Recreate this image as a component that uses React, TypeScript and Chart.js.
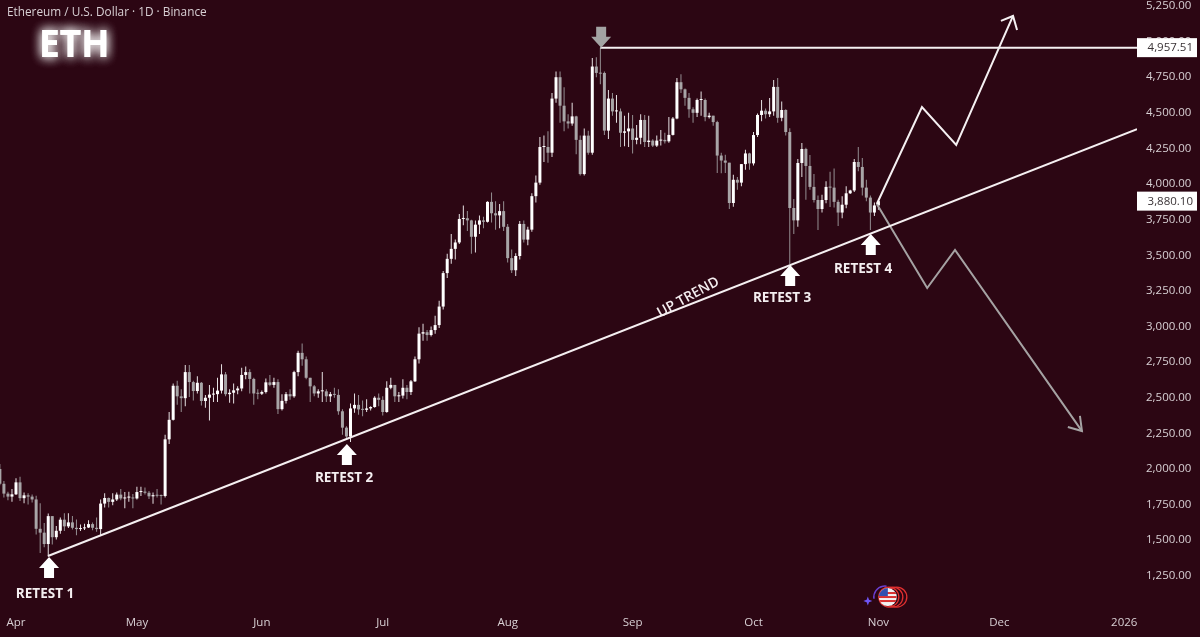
import React, { useEffect, useRef } from "react";
import Chart from "chart.js/auto";

// Day numbers count from 1 April 2025; the candles run from 28 March to 1 November.
const firstDay = -4;
const opens = [
  2000, 1896, 1827, 1806,
  1822, 1906, 1795, 1815, 1806, 1786, 1580, 1553, 1473, 1669, 1521, 1566, 1644, 1597, 1625, 1587, 1578, 1583, 1589, 1613, 1587, 1578, 1757, 1796, 1769, 1786, 1820, 1793, 1799, 1799,
  1793, 1838, 1841, 1833, 1808, 1816, 1812, 1810, 2208, 2345, 2584, 2510, 2497, 2680, 2610, 2547, 2605, 2477, 2500, 2522, 2525, 2550, 2664, 2525, 2535, 2552, 2565, 2660, 2680, 2632, 2530,
  2528, 2540, 2608, 2590, 2610, 2420, 2478, 2525, 2510, 2680, 2815, 2770, 2640, 2580, 2530, 2545, 2545, 2510, 2525, 2520, 2405, 2290, 2228, 2425, 2450, 2418, 2415, 2425, 2435, 2500,
  2485, 2400, 2570, 2590, 2510, 2515, 2570, 2540, 2615, 2770, 2950, 2960, 2940, 2975, 3010, 3140, 3375, 3475, 3545, 3590, 3755, 3760, 3745, 3630, 3715, 3745, 3735, 3875, 3795, 3780, 3810,
  3700, 3480, 3395, 3495, 3720, 3610, 3680, 3915, 4010, 4260, 4260, 4220, 4600, 4750, 4550, 4440, 4425, 4475, 4310, 4070, 4340, 4220, 4825, 4780, 4780, 4375, 4600, 4510, 4510, 4360, 4370,
  4390, 4310, 4325, 4450, 4295, 4305, 4270, 4305, 4310, 4300, 4345, 4460, 4715, 4665, 4605, 4525, 4500, 4590, 4590, 4470, 4480, 4435, 4200, 4165, 4150, 3867, 4030, 4010, 4140, 4215,
  4145, 4344, 4485, 4515, 4490, 4510, 4682, 4465, 4520, 4365, 3832, 3745, 4148, 4246, 4127, 3980, 3888, 3825, 3888, 3980, 3975, 3875, 3800, 3855, 3935, 3955, 4155, 4120, 3975, 3905, 3800,
  3850,
];
const closes = [
  1896, 1827, 1806, 1822,
  1906, 1795, 1815, 1806, 1786, 1580, 1553, 1473, 1669, 1521, 1566, 1644, 1597, 1625, 1587, 1578, 1583, 1589, 1613, 1587, 1578, 1757, 1796, 1769, 1786, 1820, 1793, 1799, 1799, 1793,
  1838, 1841, 1833, 1808, 1816, 1812, 1810, 2208, 2345, 2584, 2510, 2497, 2680, 2610, 2547, 2605, 2477, 2500, 2522, 2525, 2550, 2664, 2525, 2535, 2552, 2565, 2660, 2680, 2632, 2530, 2528,
  2540, 2608, 2590, 2610, 2420, 2478, 2525, 2510, 2680, 2815, 2770, 2640, 2580, 2530, 2545, 2545, 2510, 2525, 2520, 2405, 2290, 2228, 2425, 2450, 2418, 2415, 2425, 2435, 2500, 2485,
  2400, 2570, 2590, 2510, 2515, 2570, 2540, 2615, 2770, 2950, 2960, 2940, 2975, 3010, 3140, 3375, 3475, 3545, 3590, 3755, 3760, 3745, 3630, 3715, 3745, 3735, 3875, 3795, 3780, 3810, 3700,
  3480, 3395, 3495, 3720, 3610, 3680, 3915, 4010, 4260, 4260, 4220, 4600, 4750, 4550, 4440, 4425, 4475, 4310, 4070, 4340, 4220, 4825, 4780, 4775, 4375, 4600, 4510, 4510, 4360, 4370, 4390,
  4310, 4325, 4450, 4295, 4305, 4270, 4305, 4310, 4300, 4345, 4460, 4715, 4665, 4605, 4525, 4500, 4590, 4590, 4470, 4480, 4435, 4200, 4165, 4150, 3867, 4030, 4010, 4140, 4215, 4145,
  4344, 4485, 4515, 4490, 4510, 4682, 4465, 4520, 4365, 3832, 3745, 4148, 4246, 4127, 3980, 3888, 3825, 3888, 3980, 3975, 3875, 3800, 3855, 3935, 3955, 4155, 4120, 3975, 3905, 3800, 3850,
  3880,
];
const highs = [
  2035, 1915, 1840, 1860,
  1935, 1945, 1835, 1830, 1820, 1812, 1760, 1620, 1688, 1670, 1600, 1660, 1690, 1690, 1670, 1645, 1610, 1615, 1640, 1625, 1660, 1785, 1830, 1800, 1830, 1835, 1860, 1838, 1840, 1825,
  1875, 1875, 1870, 1845, 1835, 1860, 1820, 2240, 2400, 2600, 2620, 2560, 2730, 2730, 2620, 2650, 2610, 2520, 2590, 2570, 2640, 2735, 2680, 2560, 2600, 2580, 2710, 2720, 2700, 2640, 2560,
  2550, 2635, 2660, 2640, 2630, 2525, 2540, 2560, 2690, 2830, 2880, 2790, 2640, 2590, 2560, 2680, 2560, 2540, 2570, 2560, 2420, 2300, 2460, 2530, 2520, 2480, 2490, 2440, 2510, 2530,
  2510, 2615, 2640, 2590, 2540, 2630, 2590, 2625, 2790, 2995, 3020, 2975, 3000, 3075, 3180, 3390, 3510, 3650, 3610, 3790, 3850, 3810, 3750, 3745, 3780, 3770, 3880, 3940, 3880, 3860, 3880,
  3720, 3540, 3515, 3740, 3745, 3700, 3935, 4060, 4330, 4340, 4370, 4640, 4790, 4790, 4680, 4490, 4570, 4480, 4340, 4390, 4375, 4885, 4890, 4957, 4790, 4660, 4640, 4625, 4530, 4480, 4500,
  4485, 4415, 4490, 4485, 4480, 4315, 4340, 4380, 4360, 4470, 4470, 4745, 4770, 4670, 4640, 4540, 4600, 4650, 4600, 4500, 4480, 4445, 4220, 4205, 4150, 4065, 4050, 4140, 4240, 4220,
  4365, 4495, 4590, 4530, 4604, 4730, 4744, 4580, 4525, 4392, 3895, 4175, 4288, 4255, 4204, 4070, 3920, 3925, 4020, 4087, 4110, 3890, 3915, 3985, 3960, 4175, 4260, 4183, 4030, 3920, 3870,
  3890,
];
const lows = [
  1885, 1800, 1780, 1770,
  1818, 1775, 1760, 1750, 1765, 1540, 1410, 1450, 1385, 1470, 1505, 1545, 1565, 1585, 1575, 1535, 1565, 1572, 1585, 1570, 1560, 1536, 1730, 1730, 1745, 1775, 1780, 1725, 1770, 1725,
  1785, 1810, 1820, 1790, 1755, 1800, 1750, 1800, 2175, 2340, 2450, 2400, 2440, 2505, 2480, 2530, 2445, 2430, 2340, 2470, 2470, 2530, 2510, 2465, 2460, 2525, 2545, 2630, 2530, 2450, 2490,
  2520, 2530, 2580, 2570, 2385, 2410, 2460, 2485, 2500, 2650, 2725, 2630, 2470, 2510, 2500, 2470, 2470, 2470, 2500, 2380, 2240, 2205, 2190, 2395, 2380, 2370, 2400, 2410, 2430, 2440,
  2375, 2395, 2560, 2470, 2470, 2495, 2490, 2520, 2610, 2740, 2900, 2900, 2930, 2950, 2990, 3120, 3340, 3440, 3470, 3580, 3710, 3670, 3510, 3520, 3650, 3690, 3730, 3730, 3680, 3690, 3670,
  3450, 3375, 3355, 3470, 3590, 3570, 3665, 3870, 3995, 4155, 4150, 4190, 4570, 4430, 4370, 4390, 4410, 4210, 4060, 4060, 4205, 4205, 4750, 4700, 4345, 4316, 4480, 4430, 4260, 4265, 4260,
  4215, 4280, 4280, 4260, 4260, 4260, 4260, 4270, 4285, 4290, 4340, 4455, 4640, 4550, 4465, 4430, 4470, 4480, 4440, 4460, 4410, 4078, 4075, 4078, 3825, 3840, 3960, 3985, 4100, 4100,
  4130, 4330, 4440, 4460, 4470, 4480, 4430, 4440, 4340, 3439, 3650, 3700, 4050, 3890, 3960, 3870, 3677, 3800, 3865, 3839, 3835, 3706, 3760, 3830, 3930, 3945, 4090, 3920, 3880, 3677, 3775,
  3820,
];

const monthDays = [0, 30, 61, 91, 122, 153, 183, 214, 244, 275];
const monthLabels = ["Apr", "May", "Jun", "Jul", "Aug", "Sep", "Oct", "Nov", "Dec", "2026"];
const priceTicks = [1250, 1500, 1750, 2000, 2250, 2500, 2750, 3000, 3250, 3500, 3750, 4000, 4250, 4500, 4750, 5000, 5250];

const trendLine = [{ x: 7.94, y: 1389 }, { x: 278.16, y: 4386 }];
const peakLine = [{ x: 145, y: 4957.51 }, { x: 278.16, y: 4957.51 }];
const bullPath = [{ x: 213.6, y: 3860 }, { x: 224.8, y: 4541 }, { x: 233.3, y: 4274 }, { x: 247.4, y: 5180 }];
const bullHead = [{ x: 244.4, y: 5145 }, { x: 247.4, y: 5180 }, { x: 248.4, y: 5082 }];
const bearPath = [{ x: 213.6, y: 3860 }, { x: 226.1, y: 3270 }, { x: 233, y: 3537 }, { x: 264.5, y: 2266 }];
const bearHead = [{ x: 261, y: 2295 }, { x: 264.5, y: 2266 }, { x: 264, y: 2372 }];

const retests = [
  { label: "RETEST 1", day: 8.2, tip: 1382, textDay: 7.2, textPrice: 1124 },
  { label: "RETEST 2", day: 82.1, tip: 2175, textDay: 81.4, textPrice: 1938 },
  { label: "RETEST 3", day: 192.1, tip: 3432, textDay: 190.1, textPrice: 3200 },
  { label: "RETEST 4", day: 212.1, tip: 3650, textDay: 210.2, textPrice: 3404 },
];
const upTrendText = { label: "UP TREND", day: 166.8, price: 3205 };
const iconSpot = { day: 214.1, price: 1101 };
const priceBoxes = [
  { label: "4,957.51", price: 4957.51 },
  { label: "3,880.10", price: 3880.1 },
];

const background = "#2c0613";
const textColour = "#d8d0d4";
const upColour = "#ffffff";
const downColour = "#a8a5a7";
const font = '"Open Sans", "Noto Sans", sans-serif';

const labels = opens.map((_, i) => firstDay + i);

const overlay = {
  id: "overlay",
  beforeDraw(chart: any) {
    const { ctx, width, height } = chart;
    ctx.save();
    ctx.fillStyle = background;
    ctx.fillRect(0, 0, width, height);
    ctx.restore();
  },
  afterDraw(chart: any) {
    const { ctx, scales } = chart;
    const px = (d: number) => scales.x.getPixelForValue(d);
    const py = (v: number) => scales.y.getPixelForValue(v);
    ctx.save();

    const blockArrow = (x: number, tip: number, dir: number, colour: string) => {
      ctx.fillStyle = colour;
      ctx.beginPath();
      ctx.moveTo(x, tip);
      ctx.lineTo(x + 10, tip + dir * 11);
      ctx.lineTo(x + 5, tip + dir * 11);
      ctx.lineTo(x + 5, tip + dir * 21);
      ctx.lineTo(x - 5, tip + dir * 21);
      ctx.lineTo(x - 5, tip + dir * 11);
      ctx.lineTo(x - 10, tip + dir * 11);
      ctx.closePath();
      ctx.fill();
    };

    ctx.textAlign = "center";
    ctx.textBaseline = "middle";
    for (const r of retests) {
      blockArrow(px(r.day), py(r.tip), 1, "#ffffff");
      ctx.fillStyle = "#f4eef0";
      ctx.font = `700 13.5px ${font}`;
      ctx.fillText(r.label, px(r.textDay), py(r.textPrice));
    }
    blockArrow(px(145.2), py(4957.51), -1, "#a3a3a3");

    ctx.save();
    ctx.translate(px(upTrendText.day), py(upTrendText.price));
    ctx.rotate((-29 * Math.PI) / 180);
    ctx.fillStyle = "#f4eef0";
    ctx.font = `600 14px ${font}`;
    ctx.fillText(upTrendText.label, 0, 0);
    ctx.restore();

    // Top-left title and glowing ticker
    ctx.textAlign = "left";
    ctx.fillStyle = textColour;
    ctx.font = `400 11.8px ${font}`;
    ctx.fillText("Ethereum / U.S. Dollar · 1D · Binance", 7, 13);
    ctx.save();
    ctx.font = `700 37px ${font}`;
    ctx.fillStyle = "#ffffff";
    ctx.shadowColor = "rgba(255,255,255,0.95)";
    ctx.shadowBlur = 11;
    ctx.fillText("ETH", 39, 46);
    ctx.fillText("ETH", 39, 46);
    ctx.restore();

    // Price boxes over the axis
    for (const b of priceBoxes) {
      const y = py(b.price);
      ctx.fillStyle = "#ffffff";
      ctx.fillRect(1137, y - 9.5, 60, 19);
      ctx.fillStyle = "#3a3336";
      ctx.textAlign = "right";
      ctx.font = `400 11.5px ${font}`;
      ctx.fillText(b.label, 1193, y + 0.5);
    }

    // Small flag badge: a purple orbit and star, red rings, and a round flag
    const ix = px(iconSpot.day);
    const iy = py(iconSpot.price);
    const flagX = ix + 9;
    ctx.strokeStyle = "#6a3fd0";
    ctx.lineWidth = 1.5;
    ctx.beginPath();
    ctx.arc(ix + 6, iy, 11, Math.PI * 0.95, Math.PI * 1.55);
    ctx.stroke();
    ctx.fillStyle = "#6f55f5";
    const sx = ix - 11;
    const sy = iy + 4;
    ctx.beginPath();
    ctx.moveTo(sx, sy - 4.5);
    ctx.lineTo(sx + 1.2, sy - 1.2);
    ctx.lineTo(sx + 4.5, sy);
    ctx.lineTo(sx + 1.2, sy + 1.2);
    ctx.lineTo(sx, sy + 4.5);
    ctx.lineTo(sx - 1.2, sy + 1.2);
    ctx.lineTo(sx - 4.5, sy);
    ctx.lineTo(sx - 1.2, sy - 1.2);
    ctx.closePath();
    ctx.fill();
    ctx.strokeStyle = "#e03030";
    ctx.lineWidth = 1.3;
    for (const dx of [9, 5, 1]) {
      ctx.beginPath();
      ctx.arc(flagX + dx, iy, 10, 0, Math.PI * 2);
      ctx.stroke();
    }
    ctx.fillStyle = "#f2f2f2";
    ctx.beginPath();
    ctx.arc(flagX, iy, 9, 0, Math.PI * 2);
    ctx.fill();
    ctx.save();
    ctx.beginPath();
    ctx.arc(flagX, iy, 9, 0, Math.PI * 2);
    ctx.clip();
    ctx.fillStyle = "#d83030";
    ctx.fillRect(flagX - 9, iy - 5, 18, 2);
    ctx.fillRect(flagX - 9, iy - 1, 18, 2);
    ctx.fillRect(flagX - 9, iy + 3, 18, 2);
    ctx.fillStyle = "#3050b0";
    ctx.fillRect(flagX - 9, iy - 9, 9, 8);
    ctx.restore();
    ctx.restore();
  },
};

export default function App() {
  const ref = useRef<HTMLCanvasElement>(null);

  useEffect(() => {
    const tint = (i: number) => (closes[i] >= opens[i] ? upColour : downColour);
    const colours = labels.map((_, i) => tint(i));
    const wickColours = labels.map((_, i) => (closes[i] >= opens[i] ? "#e6e1e3" : "#948f92"));
    const line = (data: any[], colour: string, width: number) => ({
      type: "line" as const,
      data,
      borderColor: colour,
      borderWidth: width,
      pointRadius: 0,
      tension: 0,
      fill: false,
      order: 1,
    });

    const chart = new Chart(ref.current as HTMLCanvasElement, {
      type: "bar",
      data: {
        datasets: [
          line(trendLine, "#f5eff1", 2),
          line(peakLine, "#f5f0f2", 2),
          line(bullPath, "#f5f0f2", 2),
          line(bullHead, "#f5f0f2", 2),
          line(bearPath, "#a5a2a3", 2),
          line(bearHead, "#a5a2a3", 2),
          {
            type: "bar" as const,
            data: labels.map((d, i) => ({ x: d, y: [opens[i], closes[i]] })),
            backgroundColor: colours,
            barThickness: 3,
            minBarLength: 1,
            grouped: false,
            inflateAmount: 0,
            order: 2,
          },
          {
            type: "bar" as const,
            data: labels.map((d, i) => ({ x: d, y: [lows[i], highs[i]] })),
            backgroundColor: wickColours,
            barThickness: 1,
            grouped: false,
            inflateAmount: 0,
            order: 3,
          },
        ] as any,
      },
      options: {
        animation: false,
        responsive: false,
        layout: { padding: 0 },
        events: [],
        plugins: { legend: { display: false }, tooltip: { enabled: false } },
        scales: {
          x: {
            type: "linear",
            offset: false,
            min: -3.97,
            max: 278.16,
            grid: { display: false, drawTicks: false },
            border: { display: false },
            afterFit(scale: any) {
              scale.height = 28;
              scale.paddingLeft = 0;
              scale.paddingRight = 0;
              scale.paddingTop = 0;
              scale.paddingBottom = 0;
            },
            afterBuildTicks(scale: any) {
              scale.ticks = monthDays.map((value) => ({ value }));
            },
            ticks: {
              autoSkip: false,
              maxRotation: 0,
              padding: 7,
              color: textColour,
              font: { family: font, size: 11.5 },
              callback: (value: any) => monthLabels[monthDays.indexOf(Number(value))] ?? "",
            },
          },
          y: {
            type: "linear",
            position: "right",
            min: 1017,
            max: 5292,
            grid: { display: false, drawTicks: false },
            border: { display: false },
            afterFit(scale: any) {
              scale.width = 63;
              scale.paddingLeft = 0;
              scale.paddingRight = 0;
              scale.paddingTop = 0;
              scale.paddingBottom = 0;
            },
            afterBuildTicks(scale: any) {
              scale.ticks = priceTicks.map((value) => ({ value }));
            },
            ticks: {
              autoSkip: false,
              padding: 9,
              color: textColour,
              font: { family: font, size: 11.5 },
              callback: (value: any) =>
                Number(value).toLocaleString("en-US", { minimumFractionDigits: 2, maximumFractionDigits: 2 }),
            },
          },
        },
      },
      plugins: [overlay],
    } as any);
    return () => chart.destroy();
  }, []);

  return (
    <canvas
      ref={ref}
      width={1200}
      height={637}
      style={{ position: "fixed", left: 0, top: 0, display: "block", width: 1200, height: 637 }}
    />
  );
}
